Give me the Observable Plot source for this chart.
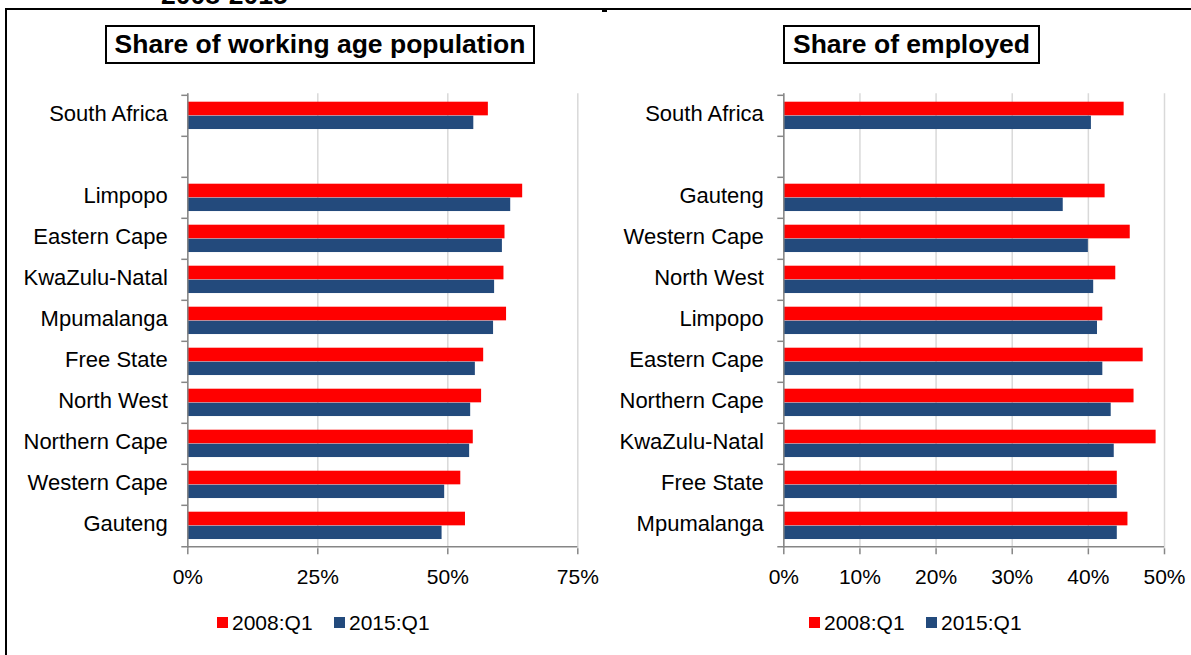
<!DOCTYPE html>
<html><head><meta charset="utf-8">
<script src="https://cdn.jsdelivr.net/npm/d3@7"></script>
<script src="https://cdn.jsdelivr.net/npm/@observablehq/plot@0.6"></script>
<style>
body{margin:0;background:#fff;font-family:"Liberation Sans",Arial,sans-serif;}
#wrap{position:relative;width:1191px;height:655px;overflow:hidden;background:#fff;}
.abs{position:absolute;}
.title{position:absolute;top:25px;height:39px;box-sizing:border-box;border:2px solid #000;font-weight:bold;font-size:26.5px;line-height:35px;text-align:center;white-space:nowrap;color:#000;}
.sw{position:absolute;width:11px;height:11px;top:617px;}
.lt{position:absolute;top:610px;font-size:21px;line-height:26px;white-space:nowrap;color:#000;}
</style></head>
<body>
<div id="wrap">
  <div class="abs" style="left:161px;top:-18px;font-weight:bold;font-size:26.5px;line-height:26px;white-space:nowrap;">2008-2015</div>
  <div class="abs" style="left:6px;top:8px;width:1185px;height:2px;background:#000;"></div>
  <div class="abs" style="left:5px;top:8px;width:2px;height:647px;background:#000;"></div>
  <div class="abs" style="left:602px;top:10px;width:5px;height:2px;background:#000;"></div>
  <div id="left" class="abs" style="left:0;top:0;"></div>
  <div id="right" class="abs" style="left:600px;top:0;"></div>
  <div id="t1" class="title" style="left:105px;width:430px;"></div>
  <div id="t2" class="title" style="left:783px;width:257px;"></div>
  <div id="legends"></div>
</div>
<script>
// ---- Data ----
const seriesNames = ["2008:Q1", "2015:Q1"];
const seriesColors = ["#ff0000", "#234a7c"];

const titleLeft = "Share of working age population";
const catsLeft = ["South Africa", "", "Limpopo", "Eastern Cape", "KwaZulu-Natal", "Mpumalanga", "Free State", "North West", "Northern Cape", "Western Cape", "Gauteng"];
const left2008 = [57.8, null, 64.4, 61.0, 60.8, 61.3, 56.9, 56.5, 54.9, 52.5, 53.4];
const left2015 = [55.0, null, 62.1, 60.5, 59.0, 58.8, 55.3, 54.4, 54.2, 49.4, 48.9];
const ticksLeft = [0, 0.25, 0.5, 0.75];

const titleRight = "Share of employed";
const catsRight = ["South Africa", "", "Gauteng", "Western Cape", "North West", "Limpopo", "Eastern Cape", "Northern Cape", "KwaZulu-Natal", "Free State", "Mpumalanga"];
const right2008 = [44.7, null, 42.2, 45.5, 43.6, 41.9, 47.2, 46.0, 48.9, 43.8, 45.2];
const right2015 = [40.4, null, 36.7, 40.0, 40.7, 41.2, 41.9, 43.0, 43.4, 43.8, 43.8];
const ticksRight = [0, 0.1, 0.2, 0.3, 0.4, 0.5];

// ---- Drawing ----
const FONT = '"Liberation Sans", Arial, sans-serif';
const AXIS = "#868686";
const TOP = 93.3, BOTTOM = 548.3, H = 600;

function panel({cats, s08, s15, ticks, width, mL, mR}) {
  const rows = [];
  cats.forEach((c, i) => {
    if (s08[i] != null) rows.push({cat: c, series: seriesNames[0], value: s08[i] / 100});
    if (s15[i] != null) rows.push({cat: c, series: seriesNames[1], value: s15[i] / 100});
  });
  const bw = (BOTTOM - TOP) / cats.length;
  const xmax = ticks[ticks.length - 1];
  const tickLen = -6 * xmax / (width - mL - mR); // 6px to the left of the axis, in data units
  return Plot.plot({
    width, height: H,
    marginLeft: mL, marginRight: mR, marginTop: TOP, marginBottom: H - BOTTOM,
    style: {fontFamily: FONT, fontSize: "21px", color: "#000", background: "transparent", overflow: "visible"},
    x: {domain: [0, xmax]},
    y: {domain: cats, padding: 0},
    marks: [
      Plot.gridX({ticks, stroke: "#d9d9d9", strokeOpacity: 1, strokeWidth: 1.5}),
      Plot.barX(rows.filter(r => r.series === seriesNames[0]), {x: "value", y: "cat", fill: seriesColors[0], insetTop: 6.7, insetBottom: bw - 20.7}),
      Plot.barX(rows.filter(r => r.series === seriesNames[1]), {x: "value", y: "cat", fill: seriesColors[1], insetTop: 20.7, insetBottom: bw - 34.4}),
      Plot.ruleX([0], {stroke: AXIS, strokeWidth: 1.5}),
      Plot.ruleY(cats, {y: d => d, x1: tickLen, x2: 0, dy: -bw / 2, stroke: AXIS, strokeWidth: 1.5}),
      Plot.ruleY([cats[cats.length - 1]], {y: d => d, x1: tickLen, x2: xmax, dy: bw / 2, stroke: AXIS, strokeWidth: 1.5}),
      Plot.axisX({ticks, tickFormat: d3.format(".0%"), tickSize: 6, tickPadding: 14, stroke: AXIS, strokeWidth: 1.5, fill: "#000", fontSize: 21, label: null}),
      Plot.axisY({tickSize: 0, tickPadding: 20, fill: "#000", fontSize: 22, dy: -2, label: null})
    ]
  });
}

document.getElementById("left").append(panel({cats: catsLeft, s08: left2008, s15: left2015, ticks: ticksLeft, width: 600, mL: 187.3, mR: 22.7}));
document.getElementById("right").append(panel({cats: catsRight, s08: right2008, s15: right2015, ticks: ticksRight, width: 591, mL: 183.3, mR: 27}));
document.getElementById("t1").textContent = titleLeft;
document.getElementById("t2").textContent = titleRight;

// Legends
const legendPos = [
  {sw: [217, 334], tx: [232, 349]},
  {sw: [809, 926], tx: [824, 941]}
];
const lg = document.getElementById("legends");
legendPos.forEach(p => {
  seriesNames.forEach((name, i) => {
    const s = document.createElement("div");
    s.className = "sw"; s.style.left = p.sw[i] + "px"; s.style.background = seriesColors[i];
    const t = document.createElement("div");
    t.className = "lt"; t.style.left = p.tx[i] + "px"; t.textContent = name;
    lg.append(s, t);
  });
});
</script>
</body></html>
